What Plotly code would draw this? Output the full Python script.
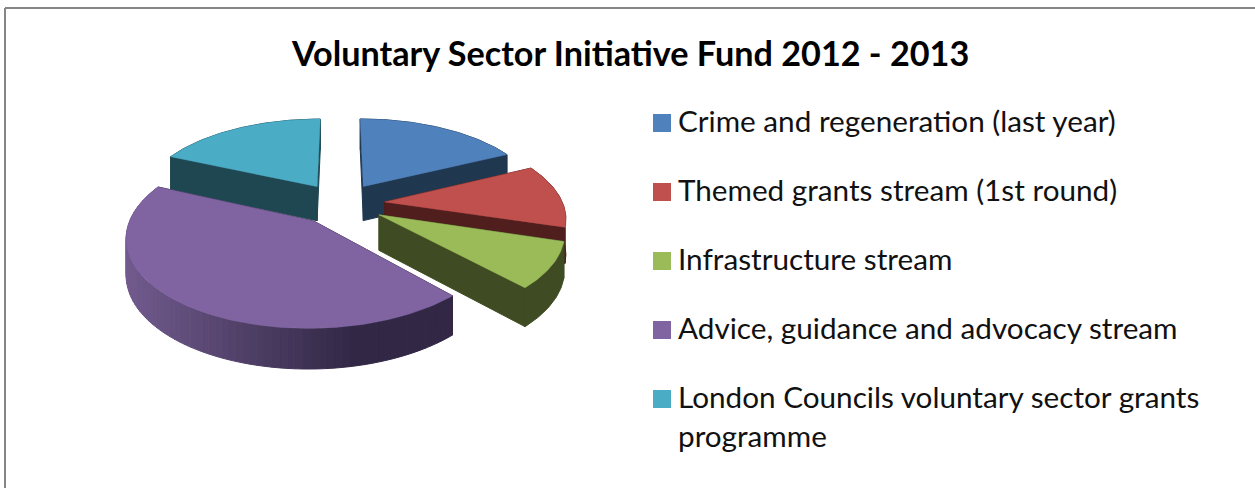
import math
import plotly.graph_objects as go

# --- Data ---
categories = [
    "Crime and regeneration (last year)",
    "Themed grants stream (1st round)",
    "Infrastructure stream",
    "Advice, guidance and advocacy stream",
    "London Councils voluntary sector grants<br>programme",
]
values = [18.0, 12.0, 8.5, 44.0, 18.5]
title_text = "Voluntary Sector Initiative Fund 2012 - 2013"

# --- Styles ---
top_colors = ["#4F81BD", "#C0504D", "#9BBB59", "#8064A2", "#4BACC6"]
wall_colors = ["#203750", "#4F1E1D", "#3F4B22", "#332848", "#1F4752"]
rim_from = (0x72, 0x5B, 0x8E)   # purple rim gradient, left side
rim_to = (0x32, 0x28, 0x46)     # purple rim gradient, right side
draw_order = [0, 4, 1, 2, 3]
FONT = "Lato"
LEGEND_CENTRES = [121.5, 190.5, 259.5, 328.5, 397.5]
LEGEND_SIZE = 29.7

# --- Simple perspective pie geometry ---
CX, CY = 340.5, 203.5
A, B = 178, 83.5
K = 0.162
EXPLODE = 0.25
DEPTH = 35


def project(wx, wy, down=0.0):
    s = 1 / (1 + K * wy)
    return CX + A * wx * s, CY - B * wy * s + down * s ** 0.7


def arc_angles(a0, a1, step=1.0):
    n = max(2, int(abs(a1 - a0) / step))
    return [a0 + (a1 - a0) * i / n for i in range(n + 1)]


total = sum(values)
fig = go.Figure()


def poly(pts, color, width=1.0):
    fig.add_trace(go.Scatter(
        x=[p[0] for p in pts] + [pts[0][0]],
        y=[p[1] for p in pts] + [pts[0][1]],
        mode="lines", fill="toself", fillcolor=color,
        line=dict(color=color, width=width),
        showlegend=False, hoverinfo="skip",
    ))


spans = []
start = 0.0
for v in values:
    end = start + v / total * 360
    spans.append((start, end))
    start = end

for idx in draw_order:
    a0, a1 = spans[idx]
    mid = math.radians((a0 + a1) / 2)
    ox, oy = EXPLODE * math.sin(mid), EXPLODE * math.cos(mid)

    def world(a):
        r = math.radians(a)
        return ox + math.sin(r), oy + math.cos(r)

    wall = wall_colors[idx]
    angles = arc_angles(a0, a1)
    # side walls running from the apex to the rim
    for a in (a0, a1):
        wx, wy = world(a)
        poly([project(ox, oy), project(wx, wy), project(wx, wy, DEPTH), project(ox, oy, DEPTH)], wall)
    # outer rim: one piece, except the purple one that carries a left-to-right shading
    if idx == 3:
        xs = [project(*world(a))[0] for a in angles]
        xmin, xmax = min(xs), max(xs)
        for i in range(0, len(angles) - 1, 2):
            seg = angles[i: i + 3]
            upper = [project(*world(a)) for a in seg]
            lower = [project(*world(a), DEPTH) for a in reversed(seg)]
            t = min(1.0, (upper[0][0] - xmin) / (xmax - xmin) / 0.7)
            c = [round(rim_from[j] + (rim_to[j] - rim_from[j]) * t) for j in range(3)]
            poly(upper + lower, f"rgb({c[0]},{c[1]},{c[2]})")
    else:
        poly([project(*world(a)) for a in angles] + [project(*world(a), DEPTH) for a in reversed(angles)], wall)
    # top face
    poly([project(ox, oy)] + [project(*world(a)) for a in angles], top_colors[idx], width=0.5)

# Hand-placed legend: the swatch sits beside the first text line, as in the reference
shapes = [
    dict(type="line", x0=5, x1=1255, y0=8, y1=8, line=dict(color="#868686", width=2)),
    dict(type="line", x0=5, x1=5, y0=8, y1=488, line=dict(color="#868686", width=2)),
]
annotations = []
for name, color, yc in zip(categories, top_colors, LEGEND_CENTRES):
    shapes.append(dict(type="rect", x0=653, x1=671, y0=yc - 7.5, y1=yc + 10.5,
                       fillcolor=color, line=dict(width=0)))
    annotations.append(dict(x=677, y=yc - 0.65 * LEGEND_SIZE, xref="x", yref="y", text=name,
                            xanchor="left", yanchor="top", align="left", showarrow=False,
                            borderpad=0, font=dict(family=FONT, size=LEGEND_SIZE, color="#111111")))

fig.update_layout(
    width=1255, height=488, autosize=False,
    margin=dict(l=0, r=0, t=0, b=0),
    paper_bgcolor="white", plot_bgcolor="white",
    title=dict(text=f"<b>{title_text}</b>", x=0.5025, xanchor="center", y=0.889, yanchor="middle",
               font=dict(family=FONT, size=34.2, color="black")),
    xaxis=dict(range=[0, 1255], visible=False, fixedrange=True),
    yaxis=dict(range=[488, 0], visible=False, fixedrange=True),
    shapes=shapes,
    annotations=annotations,
    showlegend=False,
)

fig.write_html("out.html", post_script="document.body.style.margin='0';",
               config={"displayModeBar": False})
